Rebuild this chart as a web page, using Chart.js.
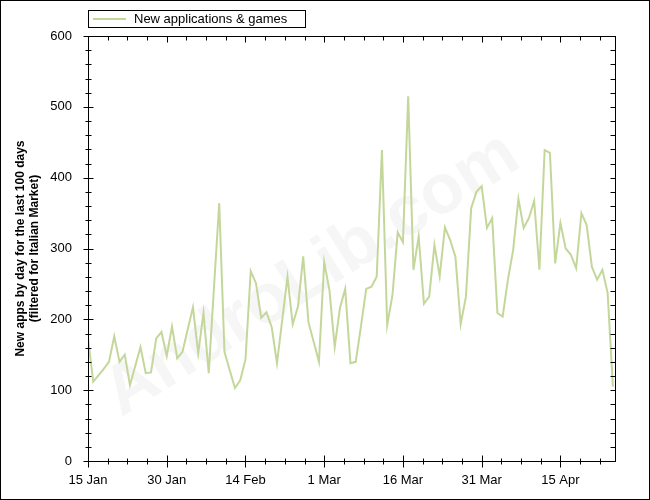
<!DOCTYPE html>
<html>
<head>
<meta charset="utf-8">
<script src="https://cdn.jsdelivr.net/npm/chart.js@4.4.0/dist/chart.umd.min.js"></script>
<style>
  html, body { margin: 0; padding: 0; background: #fff; }
  canvas { display: block; }
</style>
</head>
<body>
<canvas id="appsChart" width="650" height="500"></canvas>
<script>
// values, one per day from 15 Jan
const seriesName = 'New applications & games';
const newApps = [
  174, 112, 121, 130, 140, 176, 140, 150, 107, 134,
  161, 124, 125, 173, 182, 148, 190, 145, 154, 186,
  217, 152, 209, 124, 245, 364, 154, 128, 103, 114,
  143, 268, 251, 202, 210, 189, 138, 199, 260, 193,
  218, 289, 196, 168, 140, 281, 241, 161, 216, 243,
  138, 140, 190, 243, 246, 260, 439, 192, 234, 323,
  309, 515, 270, 317, 222, 232, 305, 261, 330, 312,
  288, 193, 232, 357, 380, 388, 329, 343, 209, 204,
  256, 298, 370, 329, 343, 367, 270, 439, 435, 279,
  336, 300, 291, 272, 350, 333, 274, 256, 270, 237,
  105
];
const tickLabels = ['15 Jan', '30 Jan', '14 Feb', '1 Mar', '16 Mar', '31 Mar', '15 Apr'];
const labelStep = 15;
const minorStepX = 3.75;
const xEnd = 100.4;
const yMax = 600;
const yStep = 100;
const minorStepY = 20;
const yTitle = ['New apps by day for the last 100 days', '(filtered for Italian Market)'];

const lineColor = '#c4d79b';
const fontFamily = '"Liberation Sans", Arial, sans-serif';

const points = newApps.map((v, i) => ({ x: i, y: v }));

const xTickValues = [];
for (let v = 0; v <= xEnd; v += minorStepX) xTickValues.push(v);

// frame, tick marks, legend, title and watermark
const decorations = {
  id: 'decorations',
  beforeDatasetsDraw(chart) {
    const ctx = chart.ctx;
    ctx.save();
    ctx.translate(312, 275);
    ctx.rotate(-0.56);
    ctx.font = 'bold 70px ' + fontFamily;
    ctx.fillStyle = '#f6f6f6';
    ctx.textAlign = 'center';
    ctx.textBaseline = 'middle';
    ctx.fillText('AndroLib.com', 0, 0);
    ctx.restore();
  },
  afterDraw(chart) {
    const ctx = chart.ctx;
    const a = chart.chartArea;
    const xs = chart.scales.x;
    const ys = chart.scales.y;
    ctx.save();
    ctx.strokeStyle = '#000';
    ctx.lineWidth = 1;

    // outer border
    ctx.strokeRect(0.5, 0.5, chart.width - 1, chart.height - 1);

    // plot frame
    const L = Math.round(a.left) + 0.5, R = Math.round(a.right) + 0.5;
    const T = Math.round(a.top) + 0.5, B = Math.round(a.bottom) + 0.5;
    ctx.strokeRect(L, T, R - L, B - T);

    ctx.beginPath();
    for (let v = 0; v <= yMax; v += minorStepY) {
      const y = Math.round(ys.getPixelForValue(v)) + 0.5;
      const major = v % yStep === 0;
      const len = major ? 5 : 3;
      ctx.moveTo(L - len, y); ctx.lineTo(L + len, y);
      ctx.moveTo(R - 5, y); ctx.lineTo(R, y);
    }
    xTickValues.forEach(v => {
      const x = Math.round(xs.getPixelForValue(v)) + 0.5;
      const major = Math.abs(v % labelStep) < 1e-6;
      const len = major ? 6 : 3;
      ctx.moveTo(x, B - len); ctx.lineTo(x, B + len);
      ctx.moveTo(x, T); ctx.lineTo(x, T + (major ? 6 : 4));
    });
    ctx.stroke();

    // legend
    ctx.strokeRect(88.5, 10.5, 217, 17);
    ctx.beginPath();
    ctx.strokeStyle = lineColor;
    ctx.lineWidth = 2;
    ctx.moveTo(93, 19); ctx.lineTo(126, 19);
    ctx.stroke();
    ctx.fillStyle = '#000';
    ctx.font = '13px ' + fontFamily;
    ctx.textBaseline = 'middle';
    ctx.fillText(seriesName, 134, 19.5);

    // y axis title
    ctx.save();
    ctx.translate(0, (a.top + a.bottom) / 2);
    ctx.rotate(-Math.PI / 2);
    ctx.font = 'bold 12px ' + fontFamily;
    ctx.textAlign = 'center';
    ctx.fillText(yTitle[0], 0, 21);
    ctx.fillText(yTitle[1], 0, 35);
    ctx.restore();

    ctx.restore();
  }
};

const ctx = document.getElementById('appsChart').getContext('2d');
new Chart(ctx, {
  type: 'line',
  data: {
    datasets: [{
      label: seriesName,
      data: points,
      borderColor: lineColor,
      borderWidth: 2,
      pointRadius: 0,
      tension: 0,
      fill: false
    }]
  },
  options: {
    responsive: false,
    animation: false,
    layout: { padding: { top: 36, right: 35, left: 0, bottom: 0 } },
    plugins: {
      legend: { display: false },
      tooltip: { enabled: false }
    },
    scales: {
      x: {
        type: 'linear',
        min: 0,
        max: xEnd,
        grid: { display: false, drawTicks: false },
        border: { display: false },
        afterBuildTicks: scale => {
          scale.ticks = xTickValues.map(v => ({ value: v }));
        },
        afterFit: scale => { scale.height = 39; },
        ticks: {
          autoSkip: false,
          maxRotation: 0,
          padding: 12,
          color: '#000',
          font: { family: fontFamily, size: 13 },
          callback: v => {
            const k = v / labelStep;
            return Math.abs(k - Math.round(k)) < 1e-6 ? (tickLabels[Math.round(k)] || '') : '';
          }
        }
      },
      y: {
        min: 0,
        max: yMax,
        grid: { display: false, drawTicks: false },
        border: { display: false },
        afterFit: scale => { scale.width = 88; },
        ticks: {
          stepSize: yStep,
          padding: 16,
          color: '#000',
          font: { family: fontFamily, size: 13 }
        }
      }
    }
  },
  plugins: [decorations]
});
</script>
</body>
</html>
